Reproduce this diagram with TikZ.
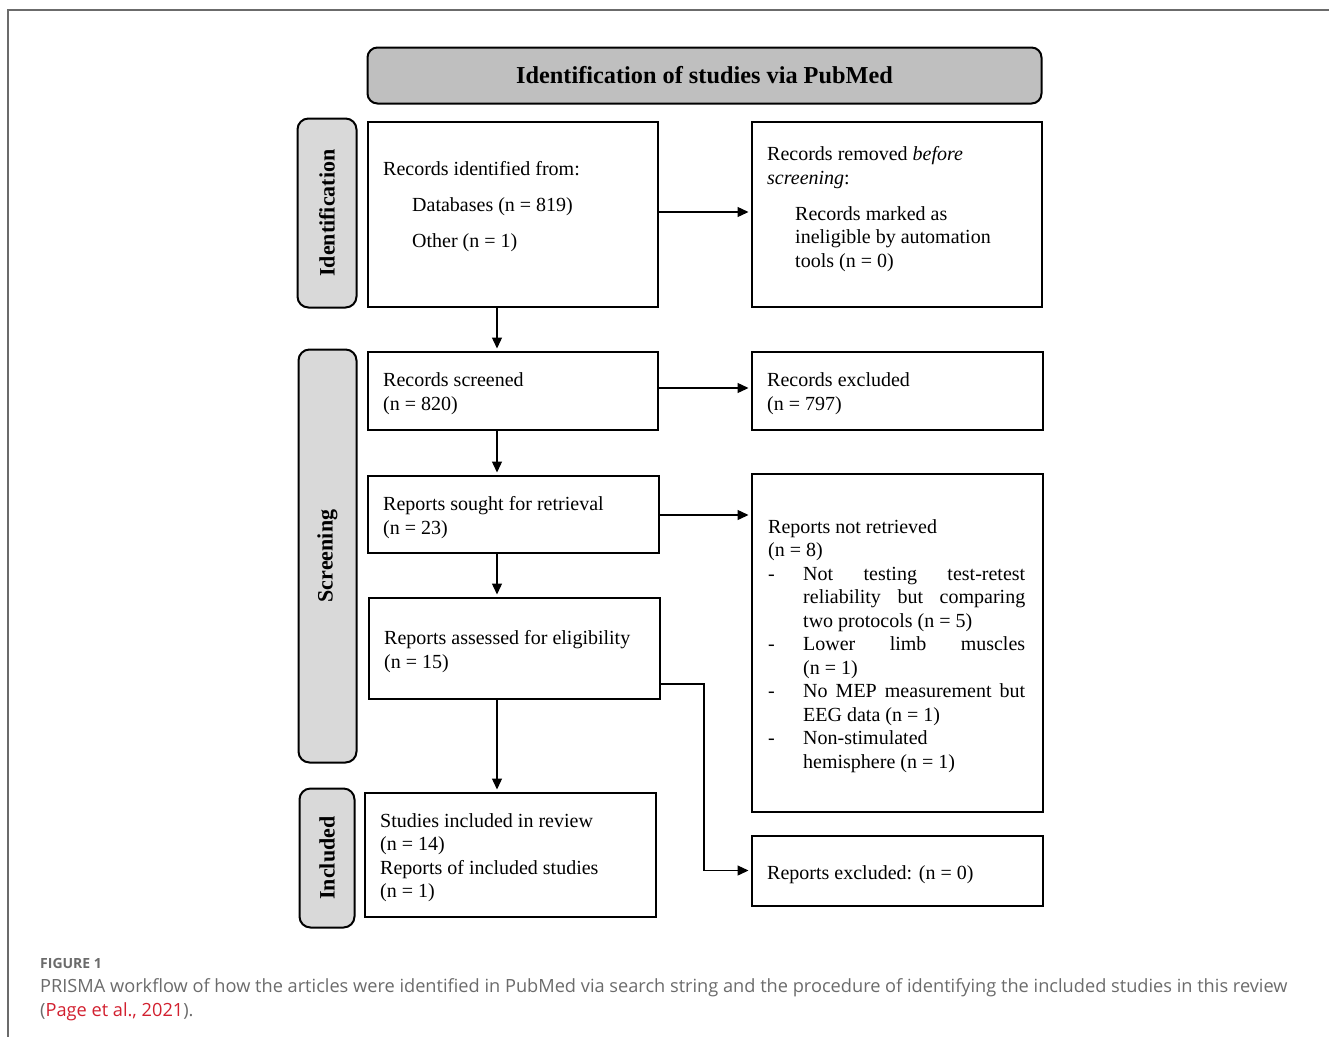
\documentclass[tikz,border=0pt]{standalone}
\usepackage{fontspec}
\setmainfont{Liberation Serif}
\newfontfamily\capfont{Open Sans}
\usetikzlibrary{arrows.meta}
\definecolor{headgray}{HTML}{BFBFBF}
\definecolor{phasegray}{HTML}{D9D9D9}
\definecolor{capgray}{HTML}{6B6B6B}
\definecolor{citered}{HTML}{D2202F}
\tikzset{
  box/.style={draw, line width=2pt, inner sep=0pt},
  phase/.style={draw, line width=2pt, rounded corners=11pt, fill=phasegray, rotate=90, inner sep=0pt, font=\fontsize{22}{26}\selectfont\bfseries},
  txt/.style={anchor=base west, inner sep=0pt, align=left, font=\fontsize{20}{23.5}\selectfont},
  arr/.style={-{Triangle[length=11pt,width=10pt]}, line width=1.3pt, shorten >=2pt},
}
\newcommand\ditem{\makebox[35pt][l]{-}}
\newcommand\dmore{\hspace*{35pt}}
\newcommand\dfull[1]{\makebox[222pt][s]{#1}}
\begin{document}
\begin{tikzpicture}[x=1pt,y=-1pt]
	\useasboundingbox (0,0) rectangle (1329,1037);
	% frame
	\draw[line width=1.5pt, capgray] (1329,10) -- (8,10) -- (8,1037);
	% header and phases
	\node[box, rounded corners=10pt, fill=headgray, minimum width=674pt, minimum height=56pt, font=\fontsize{24.3}{28}\selectfont\bfseries] (head) at (704.5,75.5) {Identification of studies via PubMed};
	\node[phase, minimum width=189pt, minimum height=59pt] (idphase) at (327,213) {Identification};
	\node[phase, minimum width=413pt, minimum height=58pt] (scphase) at (327.5,556) {Screening};
	\node[phase, minimum width=139pt, minimum height=55pt] (inphase) at (327,858) {Included};
	% boxes
	\node[box, minimum width=290pt, minimum height=185pt] (ident) at (512.5,214) {};
	\node[box, minimum width=290pt, minimum height=185pt] (removed) at (896.5,214) {};
	\node[box, minimum width=290pt, minimum height=78pt] (screened) at (512.5,390.5) {};
	\node[box, minimum width=291pt, minimum height=78pt] (excluded) at (897,390.5) {};
	\node[box, minimum width=291pt, minimum height=77pt] (sought) at (513,514) {};
	\node[box, minimum width=291pt, minimum height=338pt] (notretr) at (897,642.5) {};
	\node[box, minimum width=291pt, minimum height=101pt] (assessed) at (514,648) {};
	\node[box, minimum width=291pt, minimum height=124pt] (included) at (510,854.5) {};
	\node[box, minimum width=291pt, minimum height=70pt] (repexcl) at (897,870.5) {};
	% texts (anchored at the baseline of the last line)
	\node[txt] (identtxt) at (383,247) {Records identified from:\\[12.5pt]\hspace*{29pt}Databases (n = 819)\\[12.5pt]\hspace*{29pt}Other (n = 1)};
	\node[txt] (removedtxt) at (767,267) {Records removed \textit{before}\\\textit{screening}:\\[12.5pt]\hspace*{28pt}Records marked as\\\hspace*{28pt}ineligible by automation\\\hspace*{28pt}tools (n = 0)};
	\node[txt] (screenedtxt) at (383,410) {Records screened\\(n = 820)};
	\node[txt] (excludedtxt) at (767,410) {Records excluded\\(n = 797)};
	\node[txt] (soughttxt) at (383,534) {Reports sought for retrieval\\(n = 23)};
	\node[txt] (notretrtxt) at (768,768) {Reports not retrieved\\(n = 8)\\
		\ditem\dfull{Not testing test-retest}\\
		\dmore\dfull{reliability but comparing}\\
		\dmore two protocols (n = 5)\\
		\ditem\dfull{Lower limb muscles}\\
		\dmore(n = 1)\\
		\ditem\dfull{No MEP measurement but}\\
		\dmore EEG data (n = 1)\\
		\ditem Non-stimulated\\
		\dmore hemisphere (n = 1)};
	\node[txt] (assessedtxt) at (384,668) {Reports assessed for eligibility\\(n = 15)};
	\node[txt] (includedtxt) at (380,897.5) {Studies included in review\\(n = 14)\\Reports of included studies\\(n = 1)};
	\node[txt] (repexcltxt) at (767,879) {Reports excluded: (n = 0)};
	% arrows
	\coordinate (spine) at (497,0);
	\coordinate (bend) at (704,684);
	\draw[arr] (ident.east |- 0,212) -- (removed.west |- 0,212);
	\draw[arr] (ident.south -| spine) -- (screened.north -| spine);
	\draw[arr] (screened.east |- 0,388) -- (excluded.west |- 0,388);
	\draw[arr] (screened.south -| spine) -- (sought.north -| spine);
	\draw[arr] (sought.east |- 0,515) -- (notretr.west |- 0,515);
	\draw[arr] (sought.south -| spine) -- (assessed.north -| spine);
	\draw[arr] (assessed.south -| spine) -- (included.north -| spine);
	\draw[arr] (assessed.east |- bend) -- (bend) |- (repexcl.west);
	% caption
	\node[anchor=base west, inner sep=0pt, font=\capfont\fontsize{14}{16}\selectfont\bfseries, text=capgray] (figlabel) at (40,968) {FIGURE 1};
	\node[anchor=base west, inner sep=0pt, align=left, font=\capfont\fontsize{18.2}{24}\selectfont, text=capgray] (caption) at (40,1016) {PRISMA workflow of how the articles were identified in PubMed via search string and the procedure of identifying the included studies in this review\\(\textcolor{citered}{Page et al., 2021}).};
\end{tikzpicture}
\end{document}
